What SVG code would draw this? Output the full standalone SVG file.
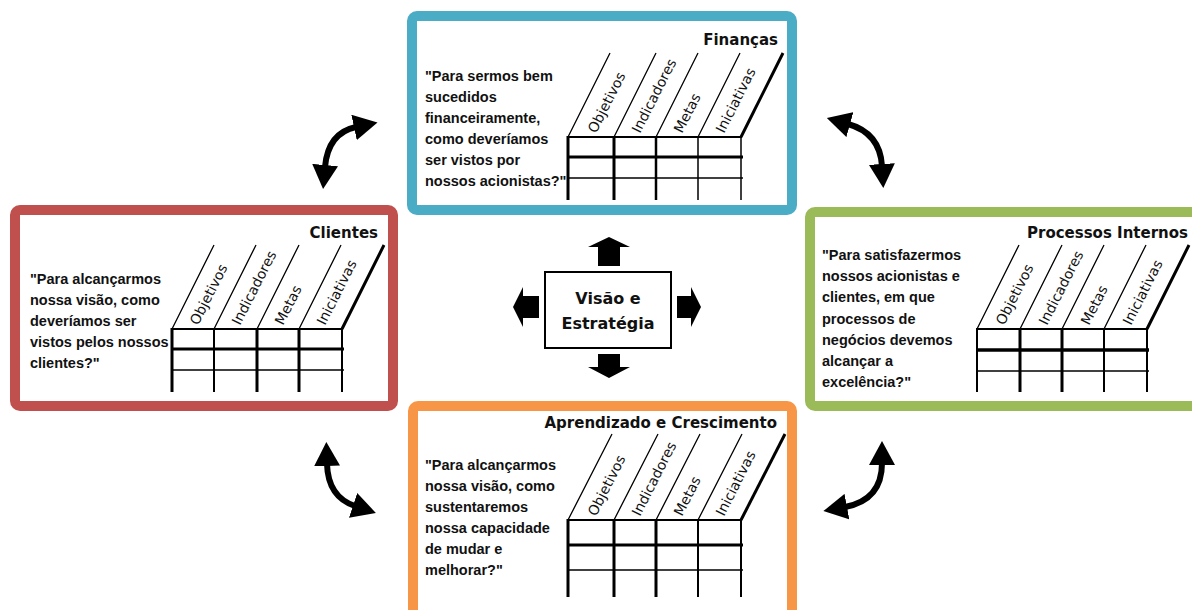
<svg xmlns="http://www.w3.org/2000/svg" width="1192" height="610" viewBox="0 0 1192 610">
<style>
.frame{fill:#fff;stroke-width:10}
.title{font-family:"DejaVu Sans",sans-serif;font-weight:bold;font-size:15px;text-anchor:end;fill:#111}
.quote{font-family:"Liberation Sans",Arial,sans-serif;font-weight:bold;font-size:14.5px;fill:#111}
.col{font-family:"DejaVu Sans",sans-serif;font-size:14px;fill:#111}
.g{stroke:#000;fill:none}
.diag{stroke:#000;stroke-width:1.3;fill:none}
.diagb{stroke:#000;stroke-width:3;fill:none}
.center{font-family:"DejaVu Sans",sans-serif;font-weight:bold;font-size:16px;text-anchor:middle;fill:#111}
.curve{fill:none;stroke:#000;stroke-width:6;marker-start:url(#hd);marker-end:url(#hd)}
.block{fill:#000}
</style>
<defs>
<marker id="hd" viewBox="0 0 24 26" refX="2" refY="13" markerWidth="24" markerHeight="26" markerUnits="userSpaceOnUse" orient="auto-start-reverse">
<path d="M0,0 L24,13 L0,26 z" fill="#000"/>
</marker>
</defs>
<rect width="1192" height="610" fill="#fff"/>

<g id="financas">
<rect class="frame" x="412" y="16" width="380" height="194" rx="5" stroke="#4bacc6"/>
<text class="title" x="778" y="45">Finanças</text>
<text class="quote" x="425" y="81">"Para sermos bem</text>
<text class="quote" x="425" y="102">sucedidos</text>
<text class="quote" x="425" y="123">financeiramente,</text>
<text class="quote" x="425" y="144">como deveríamos</text>
<text class="quote" x="425" y="165">ser vistos por</text>
<text class="quote" x="425" y="186">nossos acionistas?"</text>
<g transform="translate(568,137)">
<path class="diag" d="M0,0 l42,-84 M46,0 l42,-84 M88,0 l42,-84 M130,0 l42,-84"/>
<path class="diagb" d="M173,0 l42,-84"/>
<path class="g" stroke-width="2" d="M0,0 H174"/>
<path class="g" stroke-width="3" d="M0,20 H175"/>
<path class="g" stroke-width="1.5" d="M0,41 H175"/>
<path class="g" stroke-width="3" d="M0,-1 V63 M46,0 V63"/>
<path class="g" stroke-width="2.5" d="M88,0 V63"/>
<path class="g" stroke-width="1.5" d="M130,0 V63 M173,0 V63"/>
<text class="col" transform="translate(28,-3) rotate(-63)">Objetivos</text>
<text class="col" transform="translate(72,-3) rotate(-63)">Indicadores</text>
<text class="col" transform="translate(114,-3) rotate(-63)">Metas</text>
<text class="col" transform="translate(156,-3) rotate(-63)">Iniciativas</text>
</g>
</g>

<g id="clientes">
<rect class="frame" x="15" y="210" width="378" height="196" rx="5" stroke="#c0504d"/>
<text class="title" x="378" y="238">Clientes</text>
<text class="quote" x="30" y="284">"Para alcançarmos</text>
<text class="quote" x="30" y="305">nossa visão, como</text>
<text class="quote" x="30" y="326">deveríamos ser</text>
<text class="quote" x="30" y="347">vistos pelos nossos</text>
<text class="quote" x="30" y="368">clientes?"</text>
<g transform="translate(172,329)">
<path class="diag" d="M0,0 l42,-84 M42,0 l42,-84 M85,0 l42,-84 M127,0 l42,-84"/>
<path class="diagb" d="M170,0 l42,-84"/>
<path class="g" stroke-width="2" d="M0,0 H171"/>
<path class="g" stroke-width="3" d="M0,20 H172"/>
<path class="g" stroke-width="1.5" d="M0,41 H172"/>
<path class="g" stroke-width="3" d="M0,-1 V63 M85,0 V63 M127,0 V63"/>
<path class="g" stroke-width="2" d="M42,0 V63 M170,0 V63"/>
<text class="col" transform="translate(26,-3) rotate(-63)">Objetivos</text>
<text class="col" transform="translate(68,-3) rotate(-63)">Indicadores</text>
<text class="col" transform="translate(111,-3) rotate(-63)">Metas</text>
<text class="col" transform="translate(153,-3) rotate(-63)">Iniciativas</text>
</g>
</g>

<g id="processos">
<rect class="frame" x="810" y="212" width="400" height="194" rx="5" stroke="#9bbb59"/>
<text class="title" x="1188" y="238">Processos Internos</text>
<text class="quote" x="822" y="260">"Para satisfazermos</text>
<text class="quote" x="822" y="281">nossos acionistas e</text>
<text class="quote" x="822" y="302">clientes, em que</text>
<text class="quote" x="822" y="324">processos de</text>
<text class="quote" x="822" y="345">negócios devemos</text>
<text class="quote" x="822" y="366">alcançar a</text>
<text class="quote" x="822" y="387">excelência?"</text>
<g transform="translate(977,329)">
<path class="diag" d="M0,0 l42,-84 M43,0 l42,-84 M85,0 l42,-84 M127,0 l42,-84"/>
<path class="diagb" d="M170,0 l42,-84"/>
<path class="g" stroke-width="2" d="M0,0 H171"/>
<path class="g" stroke-width="3.5" d="M0,21 H172"/>
<path class="g" stroke-width="1.5" d="M0,42 H172"/>
<path class="g" stroke-width="2" d="M0,-1 V63 M127,0 V63 M170,0 V63"/>
<path class="g" stroke-width="3" d="M43,0 V63 M85,0 V63"/>
<text class="col" font-size="13" transform="translate(27,-3) rotate(-63)">Objetivos</text>
<text class="col" font-size="13" transform="translate(70,-3) rotate(-63)">Indicadores</text>
<text class="col" font-size="13" transform="translate(112,-3) rotate(-63)">Metas</text>
<text class="col" font-size="13" transform="translate(154,-3) rotate(-63)">Iniciativas</text>
</g>
</g>

<g id="aprendizado">
<rect class="frame" x="413" y="406" width="379" height="212" rx="5" stroke="#f79646"/>
<text class="title" x="777" y="428">Aprendizado e Crescimento</text>
<text class="quote" x="425" y="470">"Para alcançarmos</text>
<text class="quote" x="425" y="491">nossa visão, como</text>
<text class="quote" x="425" y="512">sustentaremos</text>
<text class="quote" x="425" y="533">nossa capacidade</text>
<text class="quote" x="425" y="554">de mudar e</text>
<text class="quote" x="425" y="575">melhorar?"</text>
<g transform="translate(568,520)">
<path class="diag" d="M0,0 l44,-86 M46,0 l44,-86 M88,0 l44,-86 M130,0 l44,-86"/>
<path class="diagb" d="M173,0 l44,-86"/>
<path class="g" stroke-width="2" d="M0,0 H174"/>
<path class="g" stroke-width="3" d="M0,25 H175"/>
<path class="g" stroke-width="1.5" d="M0,50 H175"/>
<path class="g" stroke-width="3" d="M0,-1 V77 M46,0 V77 M88,0 V77"/>
<path class="g" stroke-width="2" d="M130,0 V77 M173,0 V77"/>
<text class="col" transform="translate(28,-3) rotate(-63)">Objetivos</text>
<text class="col" transform="translate(72,-3) rotate(-63)">Indicadores</text>
<text class="col" transform="translate(114,-3) rotate(-63)">Metas</text>
<text class="col" transform="translate(156,-3) rotate(-63)">Iniciativas</text>
</g>
</g>

<g id="visao">
<rect x="545" y="272" width="126" height="76" fill="#fff" stroke="#000" stroke-width="2"/>
<text class="center" x="608" y="304">Visão e</text>
<text class="center" x="608" y="329">Estratégia</text>
</g>

<g id="connectors">
<polygon class="block" points="609,237 630,247 620,247 620,266 598,266 598,247 588,247"/>
<polygon class="block" points="598,354 620,354 620,367 630,367 609,378 588,367 598,367"/>
<polygon class="block" points="513,307 523,287 523,296 539,296 539,318 523,318 523,327"/>
<polygon class="block" points="677,296 691,296 691,287 701,307 691,327 691,318 677,318"/>
<path class="curve" d="M325,167 Q328,133 356,127"/>
<path class="curve" d="M848,124 Q880,133 882,166"/>
<path class="curve" d="M327,464 Q328,497 355,506"/>
<path class="curve" d="M882,463 Q882,500 845,507"/>
</g>
</svg>
